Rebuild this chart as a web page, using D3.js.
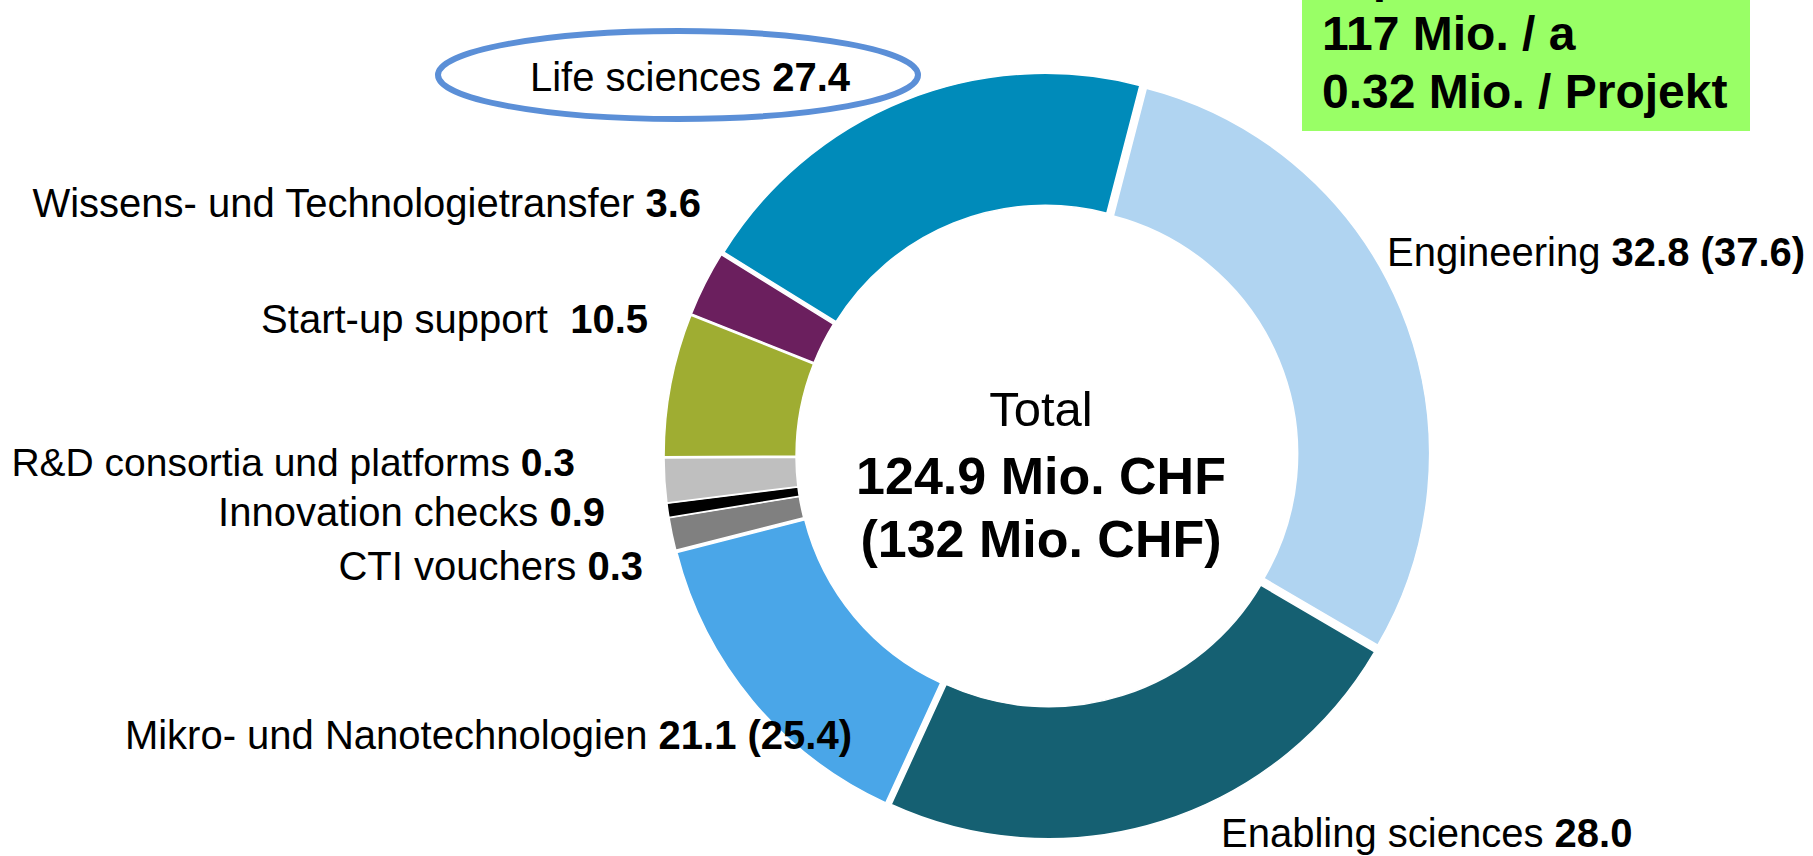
<!DOCTYPE html>
<html>
<head>
<meta charset="utf-8">
<script src="https://cdn.jsdelivr.net/npm/d3@7"></script>
<style>
  body { margin: 0; background: #fff; }
  svg { display: block; font-family: "Liberation Sans", Arial, sans-serif; }
</style>
</head>
<body>
<div id="chart"></div>
<script>
// ring segments, clockwise starting with Life sciences
const categories = [
  "Life sciences",
  "Engineering",
  "Enabling sciences",
  "Mikro- und Nanotechnologien",
  "CTI vouchers",
  "Innovation checks",
  "R&D consortia und platforms",
  "Start-up support ",
  "Wissens- und Technologietransfer",
]
const amounts = ["27.4", "32.8 (37.6)", "28.0", "21.1 (25.4)", "0.3", "0.9", "0.3", "10.5", "3.6"]
// size of each segment as drawn (% of the ring), it doesn't follow the amounts
const sliceShares = [20.2, 29.4, 23.4, 14.2, 1.4, 0.6, 1.9, 6.1, 2.8]
const colors = ["#008bba", "#b0d4f1", "#156072", "#4aa6e8", "#808080", "#000000", "#bfbfbf", "#9fad32", "#6b1f5e"]

const totalLines = ["Total", "124.9 Mio. CHF", "(132 Mio. CHF)"]
const boxLines = ["Ø pro Jahr", "117 Mio. / a", "0.32 Mio. / Projekt"]

const dimensions = {
  width: 1813,
  height: 856,
  cx: 1047,
  cy: 456,
  outer: 378,
  inner: 246,
  explode: 5,
}

// where each label sits: anchor x, baseline y, text-anchor
const labelPos = [
  { x: 690, y: 91, anchor: "middle", size: 40 },
  { x: 1387, y: 266, anchor: "start", size: 40 },
  { x: 1221, y: 847, anchor: "start", size: 40 },
  { x: 852, y: 749, anchor: "end", size: 40 },
  { x: 643, y: 580, anchor: "end", size: 40 },
  { x: 605, y: 526, anchor: "end", size: 40 },
  { x: 575, y: 476, anchor: "end", size: 39 },
  { x: 648, y: 333, anchor: "end", size: 40 },
  { x: 701, y: 217, anchor: "end", size: 40 },
]

function draw() {
  const data = categories.map((c, i) => ({ name: c, amount: amounts[i], share: sliceShares[i], color: colors[i] }))

  const svg = d3
    .select("#chart")
    .append("svg")
    .attr("width", dimensions.width)
    .attr("height", dimensions.height)

  // green info box (top line is cut off by the page edge)
  const box = svg.append("g")
  box
    .append("rect")
    .attr("x", 1302)
    .attr("y", -20)
    .attr("width", 448)
    .attr("height", 151)
    .attr("fill", "#99ff66")
  box
    .selectAll("text")
    .data(boxLines)
    .join("text")
    .attr("x", 1322)
    .attr("y", (d, i) => -8 + i * 58)
    .attr("font-size", 48)
    .attr("font-weight", "bold")
    .attr("fill", "#000")
    .text(d => d)

  // donut
  const pie = d3
    .pie()
    .sort(null)
    .value(d => d.share)
    .startAngle((-58.2 * Math.PI) / 180)
    .endAngle((-58.2 * Math.PI) / 180 + 2 * Math.PI)

  const arc = d3.arc().innerRadius(dimensions.inner).outerRadius(dimensions.outer)

  const ctr = svg
    .append("g")
    .attr("transform", `translate(${dimensions.cx}, ${dimensions.cy})`)

  ctr
    .selectAll("path")
    .data(pie(data))
    .join("path")
    .attr("d", arc)
    .attr("fill", d => d.data.color)
    .attr("stroke", "#fff")
    .attr("stroke-width", 1.5)
    .attr("transform", d => {
      const mid = (d.startAngle + d.endAngle) / 2
      return `translate(${dimensions.explode * Math.sin(mid)}, ${-dimensions.explode * Math.cos(mid)})`
    })

  // text in the hole
  svg
    .append("g")
    .selectAll("text")
    .data(totalLines)
    .join("text")
    .attr("x", 1041)
    .attr("y", (d, i) => [426, 494, 557][i])
    .attr("text-anchor", "middle")
    .attr("font-size", (d, i) => (i === 0 ? 49 : 52))
    .attr("font-weight", (d, i) => (i === 0 ? "normal" : "bold"))
    .attr("fill", "#000")
    .text(d => d)

  // ring around the Life sciences label
  svg
    .append("ellipse")
    .attr("cx", 678)
    .attr("cy", 75)
    .attr("rx", 240)
    .attr("ry", 44)
    .attr("fill", "none")
    .attr("stroke", "#5b8fd7")
    .attr("stroke-width", 6)

  // labels
  const labels = svg
    .append("g")
    .selectAll("text")
    .data(data)
    .join("text")
    .attr("x", (d, i) => labelPos[i].x)
    .attr("y", (d, i) => labelPos[i].y)
    .attr("text-anchor", (d, i) => labelPos[i].anchor)
    .attr("font-size", (d, i) => labelPos[i].size)
    .attr("fill", "#000")
    .style("white-space", "pre")

  labels.append("tspan").text(d => d.name + " ")
  labels
    .append("tspan")
    .attr("font-weight", "bold")
    .text(d => d.amount)
}

draw()
</script>
</body>
</html>
